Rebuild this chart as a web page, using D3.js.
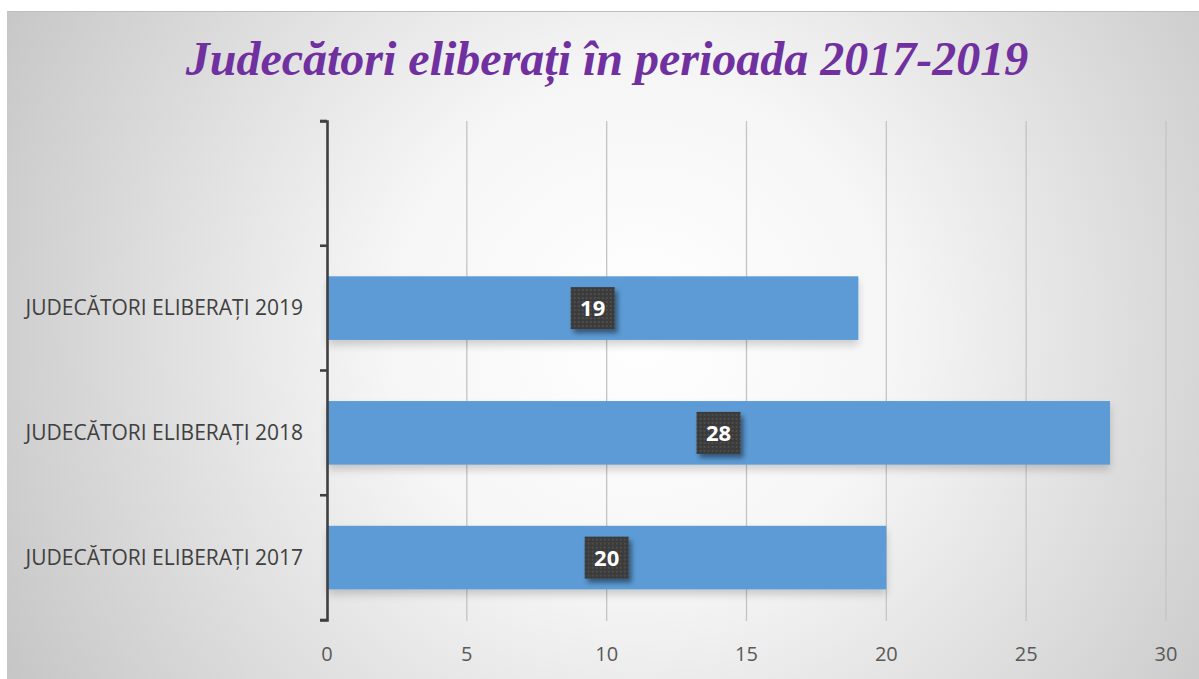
<!DOCTYPE html>
<html><head><meta charset="utf-8">
<script src="https://cdn.jsdelivr.net/npm/d3@7"></script>
<style>body{margin:0;background:#fff;}svg{display:block;}</style>
</head><body>
<script>
const categories = ["", "JUDECĂTORI ELIBERAȚI 2019", "JUDECĂTORI ELIBERAȚI 2018", "JUDECĂTORI ELIBERAȚI 2017"];
const values = [null, 19, 28, 20];
const xTicks = [0, 5, 10, 15, 20, 25, 30];
const title = "Judecători eliberați în perioada 2017-2019";

const W = 1199, H = 679;
const svg = d3.select("body").append("svg").attr("width", W).attr("height", H);
const defs = svg.append("defs");
const rg = defs.append("radialGradient").attr("id","bg").attr("gradientUnits","userSpaceOnUse")
  .attr("cx",640).attr("cy",330).attr("r",720);
rg.append("stop").attr("offset","0").attr("stop-color","#ffffff");
rg.append("stop").attr("offset","0.35").attr("stop-color","#f6f6f6");
rg.append("stop").attr("offset","1").attr("stop-color","#c6c6c6");
const sh = defs.append("filter").attr("id","sh").attr("x","-20%").attr("y","-30%").attr("width","140%").attr("height","180%");
sh.append("feGaussianBlur").attr("in","SourceAlpha").attr("stdDeviation",4);
sh.append("feOffset").attr("dx",0).attr("dy",5).attr("result","b");
sh.append("feComponentTransfer").append("feFuncA").attr("type","linear").attr("slope",0.18);
const m = sh.append("feMerge"); m.append("feMergeNode"); m.append("feMergeNode").attr("in","SourceGraphic");
const sh2 = defs.append("filter").attr("id","sh2").attr("x","-30%").attr("y","-30%").attr("width","180%").attr("height","180%");
sh2.append("feGaussianBlur").attr("in","SourceAlpha").attr("stdDeviation",2.5);
sh2.append("feOffset").attr("dx",3).attr("dy",4);
sh2.append("feComponentTransfer").append("feFuncA").attr("type","linear").attr("slope",0.45);
const m2 = sh2.append("feMerge"); m2.append("feMergeNode"); m2.append("feMergeNode").attr("in","SourceGraphic");
const pat = defs.append("pattern").attr("id","dots").attr("patternUnits","userSpaceOnUse").attr("width",4).attr("height",4);
pat.append("rect").attr("width",4).attr("height",4).attr("fill","#3a3a3a");
pat.append("circle").attr("cx",2).attr("cy",2).attr("r",0.9).attr("fill","#575757");

svg.append("rect").attr("x",7).attr("y",11).attr("width",W-7).attr("height",H-11).attr("fill","url(#bg)");
svg.append("line").attr("x1",7).attr("x2",W).attr("y1",11.5).attr("y2",11.5).attr("stroke","#bdbdbd");

svg.append("text").attr("x",607).attr("y",75).attr("text-anchor","middle")
  .attr("font-family","Liberation Serif").attr("font-weight","bold").attr("font-style","italic")
  .attr("font-size",48).attr("fill","#7030A0").text(title);

const x = d3.scaleLinear().domain([0,30]).range([327,1166]);
const y = d3.scaleBand().domain(categories).range([121,620]).paddingInner(0.49).paddingOuter(0.245);
const yb = d3.scaleBand().domain(categories).range([121,620]);

// gridlines
svg.append("g").selectAll("line").data(xTicks.filter(d=>d>0)).join("line")
  .attr("x1",d=>x(d)).attr("x2",d=>x(d)).attr("y1",121).attr("y2",621)
  .attr("stroke","#c4c4c4").attr("stroke-width",1.3);

// bars
const data = categories.map((c,i)=>({c, v: values[i]})).filter(d=>d.v!=null);
svg.append("g").selectAll("rect").data(data).join("rect")
  .attr("x",x(0)+1).attr("y",d=>y(d.c)).attr("width",d=>x(d.v)-x(0)-1).attr("height",y.bandwidth())
  .attr("fill","#5B9BD5").attr("filter","url(#sh)");

// y axis
const yAxis = d3.axisLeft(yb).tickSize(7).tickFormat("").tickSizeOuter(7);
const gy = svg.append("g").attr("transform","translate(327,0)").call(yAxis);
gy.select(".domain").attr("stroke","#404040").attr("stroke-width",2.6);
gy.selectAll(".tick line").attr("stroke","#404040").attr("stroke-width",2.6)
  .attr("transform",d=>`translate(0,${-yb.bandwidth()/2})`);
gy.append("line").attr("x1",-7).attr("x2",0).attr("y1",620).attr("y2",620).attr("stroke","#404040").attr("stroke-width",2.6);

// category labels
svg.append("g").selectAll("text").data(categories).join("text")
  .attr("x",303).attr("y",d=>yb(d)+yb.bandwidth()/2+7).attr("text-anchor","end")
  .attr("font-family","Open Sans").attr("font-size",21).attr("fill","#404040").text(d=>d);

// x tick labels
svg.append("g").selectAll("text").data(xTicks).join("text")
  .attr("x",d=>x(d)).attr("y",661).attr("text-anchor","middle")
  .attr("font-family","Open Sans").attr("font-size",20).attr("fill","#595959").text(d=>d);

// value labels
const lg = svg.append("g").selectAll("g").data(data).join("g")
  .attr("transform",d=>`translate(${(x(0)+x(d.v))/2},${y(d.c)+y.bandwidth()/2})`);
lg.append("rect").attr("x",-22).attr("y",-21).attr("width",44).attr("height",42)
  .attr("fill","url(#dots)").attr("filter","url(#sh2)");
lg.append("text").attr("y",8).attr("text-anchor","middle").attr("font-family","Open Sans").attr("font-weight","bold")
  .attr("font-size",22).attr("fill","#ffffff").text(d=>d.v);
</script>
</body></html>
